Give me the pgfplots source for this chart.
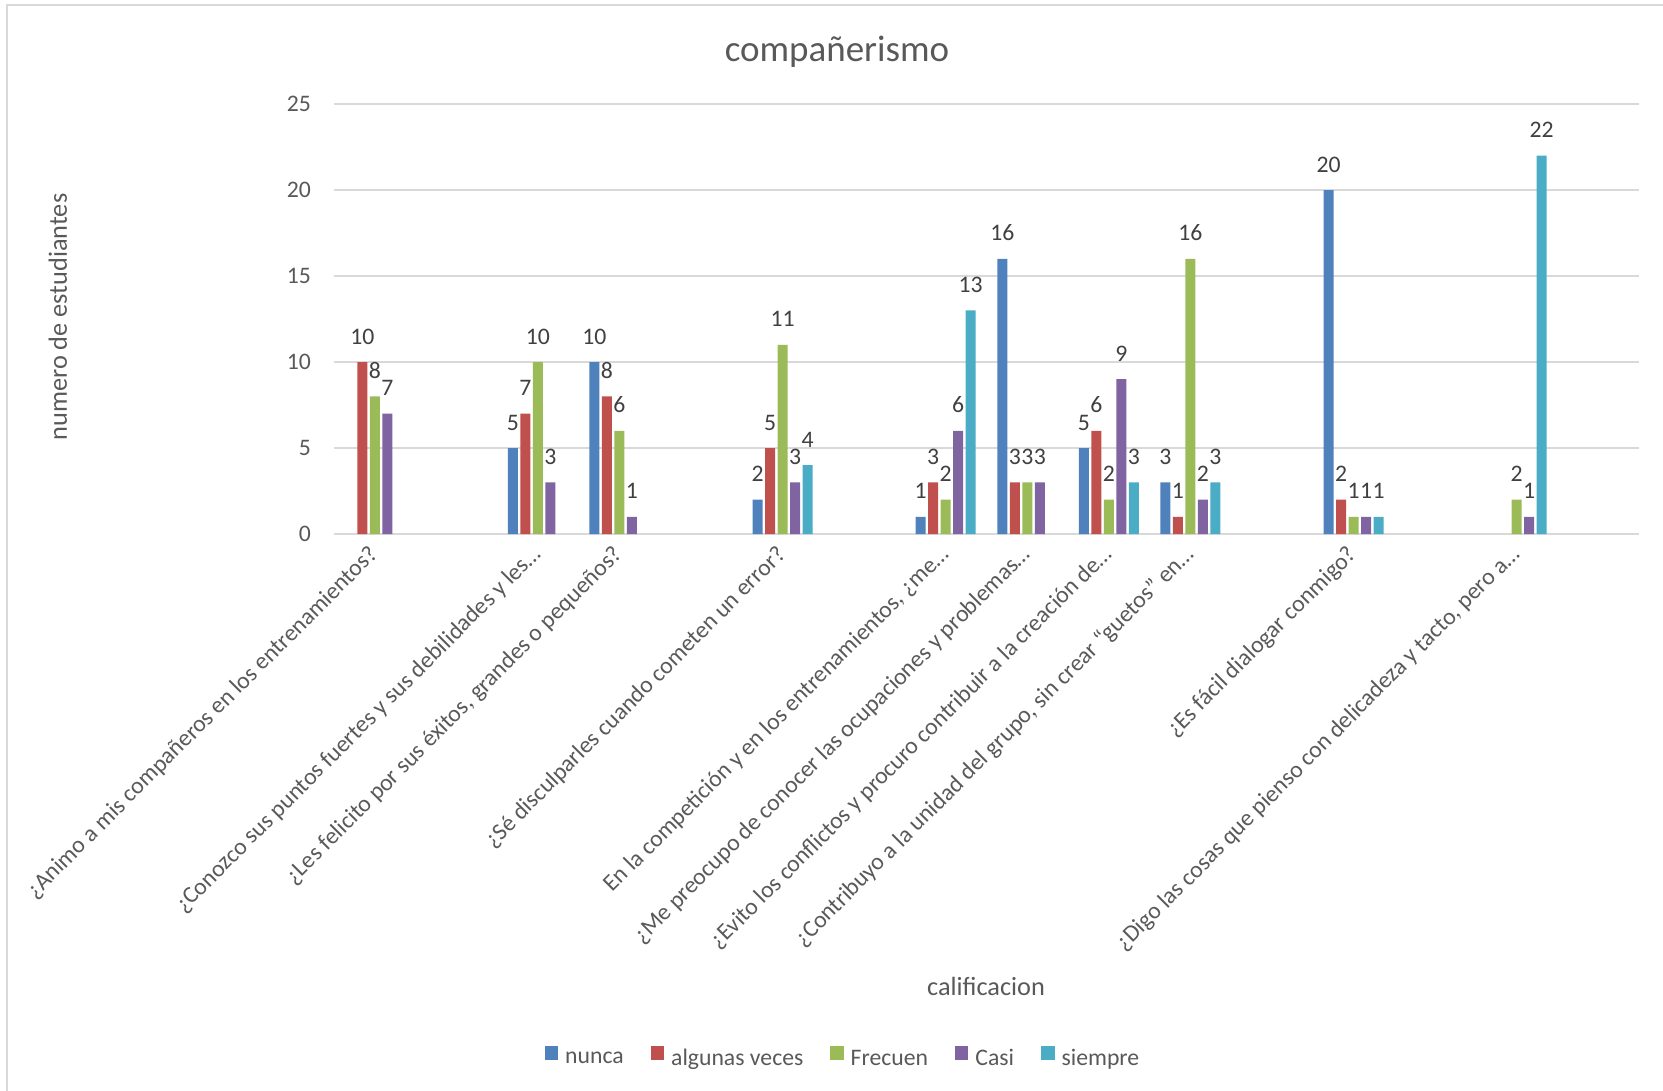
\documentclass[border=0pt]{standalone}
\usepackage{fontspec}
\setmainfont{Carlito}
\usepackage{pgfplots}
\pgfplotsset{compat=1.18}
\definecolor{cNunca}{HTML}{4F81BD}
\definecolor{cAlgunas}{HTML}{C0504D}
\definecolor{cFrecuen}{HTML}{9BBB59}
\definecolor{cCasi}{HTML}{8064A2}
\definecolor{cSiempre}{HTML}{4BACC6}
\definecolor{txt}{HTML}{595959}
\definecolor{lbl}{HTML}{404040}
\definecolor{gridc}{HTML}{D9D9D9}
\newcommand{\fs}{\fontsize{23.7pt}{28pt}\selectfont}
\pgfplotsset{
  lsq/.style={legend image code/.code={\fill[##1] (0pt,-1.5pt) rectangle (13.4pt,11.9pt);}}
}
\begin{document}
\begin{tikzpicture}
\begin{axis}[
  scale only axis, width=1305pt, height=430pt,
  ybar=2.5pt, bar width=10pt,
  xmin=-0.5, xmax=15.5, ymin=0, ymax=25,
  ytick={0,5,...,25},
  xtick={0,2,3,5,7,8,9,10,12,14},
  xticklabels={
    {¿Animo a mis compañeros en los entrenamientos?},
    {¿Conozco sus puntos fuertes y sus debilidades y les…},
    {¿Les felicito por sus éxitos, grandes o pequeños?},
    {¿Sé disculparles cuando cometen un error?},
    {En la competición y en los entrenamientos, ¿me…},
    {¿Me preocupo de conocer las ocupaciones y problemas…},
    {¿Evito los conflictos y procuro contribuir a la creación de…},
    {¿Contribuyo a la unidad del grupo, sin crear “guetos” en…},
    {¿Es fácil dialogar conmigo?},
    {¿Digo las cosas que pienso con delicadeza y tacto, pero a…}},
  axis line style={draw=none},
  ymajorgrids, grid style={gridc, line width=1.3pt},
  major tick length=0pt,
  /pgf/number format/assume math mode=true,
  yticklabel style={font=\fs, text=txt, inner sep=0pt, xshift=-23pt},
  xticklabel style={font=\fs, text=txt, rotate=45, anchor=east, inner sep=0pt},
  xticklabel shift=17pt,
  nodes near coords,
  every node near coord/.append style={font=\fs, text=lbl, anchor=base, inner sep=0pt, yshift=18pt},
  clip=false,
  legend style={at={(axis description cs:0.3893,-1.216)}, anchor=center, draw=none, fill=none,
    font=\fs, text=txt, legend columns=-1, nodes={inner sep=0pt},
    /tikz/every odd column/.append style={column sep=7pt},
    /tikz/every even column/.append style={column sep=27pt}},
]
\addplot[fill=cNunca, draw=none, lsq] coordinates {(2,5) (3,10) (5,2) (7,1) (8,16) (9,5) (10,3) (12,20)};
\addlegendentry{nunca}
\addplot[fill=cAlgunas, draw=none, lsq] coordinates {(0,10) (2,7) (3,8) (5,5) (7,3) (8,3) (9,6) (10,1) (12,2)};
\addlegendentry{algunas veces}
\addplot[fill=cFrecuen, draw=none, lsq] coordinates {(0,8) (2,10) (3,6) (5,11) (7,2) (8,3) (9,2) (10,16) (12,1) (14,2)};
\addlegendentry{Frecuen}
\addplot[fill=cCasi, draw=none, lsq] coordinates {(0,7) (2,3) (3,1) (5,3) (7,6) (8,3) (9,9) (10,2) (12,1) (14,1)};
\addlegendentry{Casi}
\addplot[fill=cSiempre, draw=none, lsq] coordinates {(5,4) (7,13) (9,3) (10,3) (12,1) (14,22)};
\addlegendentry{siempre}
\end{axis}
\node[anchor=base, font=\fontsize{37pt}{44pt}\selectfont, text=txt] at (503pt,472pt) {compañerismo};
\node[anchor=base, rotate=90, font=\fontsize{26.3pt}{31pt}\selectfont, text=txt] at (-267pt,217pt) {numero de estudiantes};
\node[anchor=base, font=\fontsize{26.3pt}{31pt}\selectfont, text=txt] at (652pt,-461pt) {calificacion};
\draw[gridc, line width=1.5pt] (-327pt,-557pt) -- (-327pt,529pt) -- (1329pt,529pt);
\pgfresetboundingbox
\useasboundingbox (-334pt,-557pt) rectangle (1329pt,534pt);
\end{tikzpicture}
\end{document}
